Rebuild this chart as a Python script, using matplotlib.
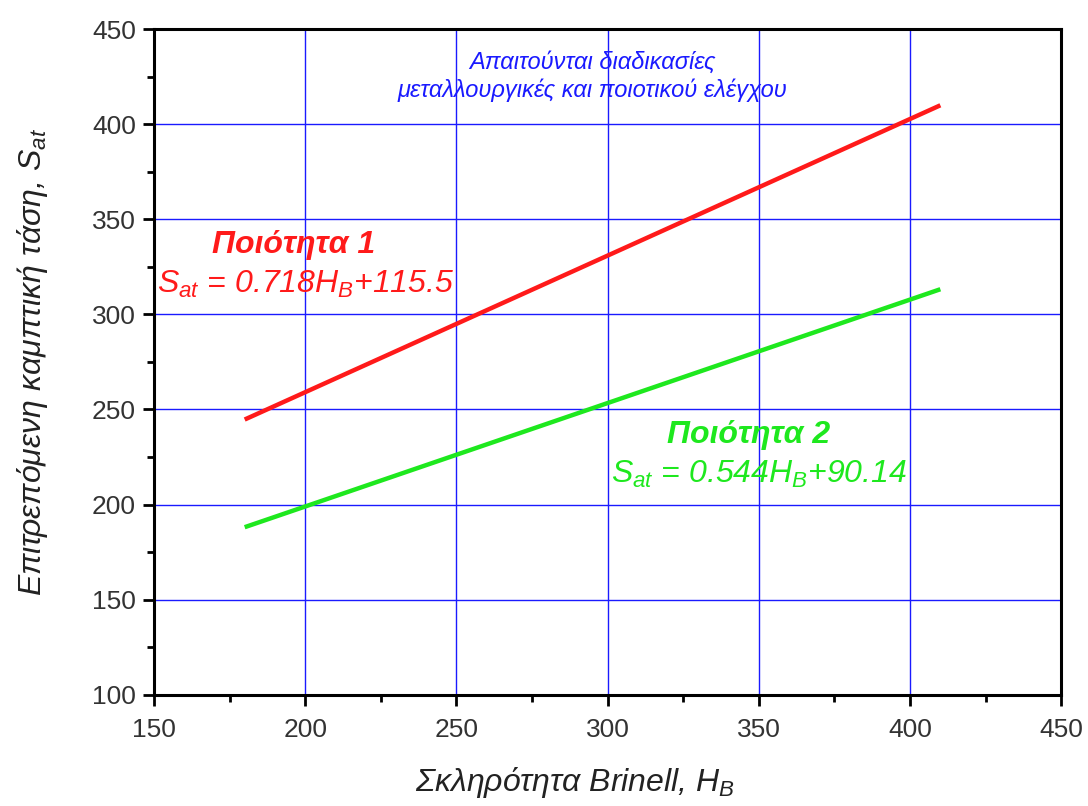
import matplotlib
matplotlib.use("Agg")
import matplotlib.pyplot as plt
from matplotlib.ticker import MultipleLocator

plt.rcParams['font.family'] = ['Liberation Sans', 'DejaVu Sans']
plt.rcParams['mathtext.fontset'] = 'custom'
plt.rcParams['mathtext.rm'] = 'Liberation Sans'
plt.rcParams['mathtext.it'] = 'Liberation Sans:italic'
plt.rcParams['mathtext.bf'] = 'Liberation Sans:bold'

# Brinell hardness range and allowable bending stress for the two grades
hb = [180, 410]
grade1 = [244.7, 409.9]
grade2 = [188.1, 313.2]

red = '#ff1a1a'
green = '#1ee81e'

fig = plt.figure(figsize=(10.88, 8.06), dpi=100)
ax = fig.add_axes([0.1415, 0.138, 0.834, 0.826])

ax.plot(hb, grade1, color=red, lw=3.2, solid_capstyle='butt', zorder=3)
ax.plot(hb, grade2, color=green, lw=3.2, solid_capstyle='butt', zorder=3)

ax.set_xlim(150, 450)
ax.set_ylim(100, 450)
ax.xaxis.set_major_locator(MultipleLocator(50))
ax.xaxis.set_minor_locator(MultipleLocator(25))
ax.yaxis.set_major_locator(MultipleLocator(50))
ax.yaxis.set_minor_locator(MultipleLocator(25))
ax.grid(True, which='major', color='#1a1aff', lw=1.0)
ax.set_axisbelow(True)

for s in ax.spines.values():
    s.set_linewidth(2.2)
ax.tick_params(which='major', direction='out', length=8, width=2,
               labelsize=19, labelcolor='#333333')
ax.tick_params(axis='x', which='major', pad=9)
ax.tick_params(axis='y', which='major', pad=5)
ax.tick_params(which='minor', direction='out', length=5, width=2)

ax.set_xlabel('Σκληρότητα Brinell, $H_B$', fontsize=23, style='italic',
              labelpad=12, color='#222222')
ax.xaxis.set_label_coords(0.464, -0.105)
ax.set_ylabel('Επιτρεπόμενη καμπτική τάση, $S_{at}$', fontsize=23, style='italic',
              labelpad=30, color='#222222')

ax.text(196, 336.5, 'Ποιότητα 1', color=red, fontsize=23, style='italic',
        weight='bold', ha='center', va='center')
ax.text(200, 315.5, '$S_{at}$ = 0.718$H_B$+115.5', color=red, fontsize=23,
        style='italic', ha='center', va='center')
ax.text(346.5, 236.7, 'Ποιότητα 2', color=green, fontsize=23, style='italic',
        weight='bold', ha='center', va='center')
ax.text(350, 215.6, '$S_{at}$ = 0.544$H_B$+90.14', color=green, fontsize=23,
        style='italic', ha='center', va='center')
ax.text(295, 425, 'Απαιτούνται διαδικασίες\nμεταλλουργικές και ποιοτικού ελέγχου',
        color='#1a1aff', fontsize=17, style='italic', ha='center', va='center',
        linespacing=1.25)

fig.savefig('out.png', dpi=100)
